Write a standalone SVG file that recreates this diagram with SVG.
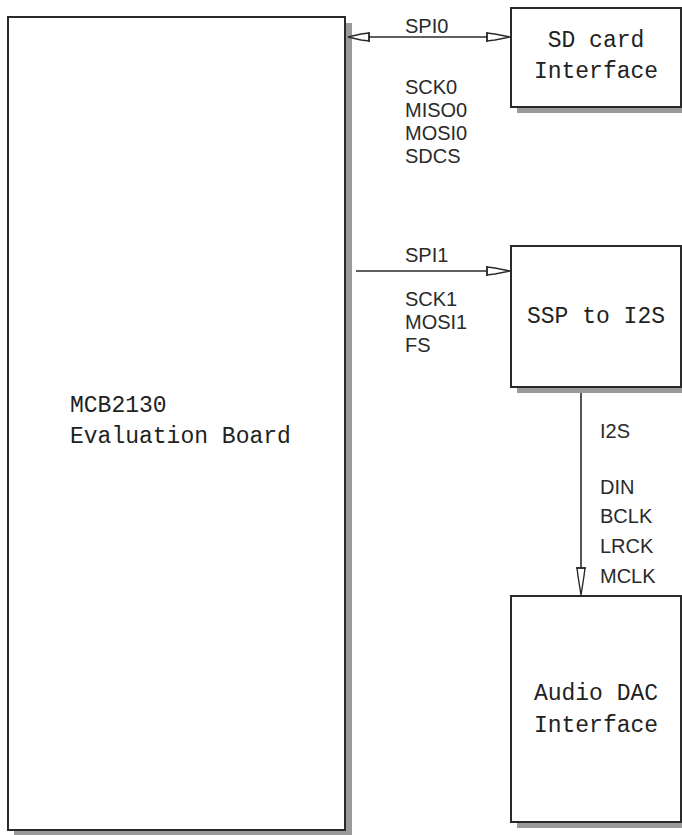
<svg xmlns="http://www.w3.org/2000/svg" width="682" height="835" viewBox="0 0 682 835">
<style>
.shadow{fill:#9a9a9a;stroke:none}
.box{fill:#ffffff;stroke:#2a2a2a;stroke-width:2}
.node{font-family:"Liberation Mono","Courier New",monospace;font-size:23px;fill:#222}
.lbl{font-family:"Liberation Sans",Arial,sans-serif;font-size:20px;fill:#2a2a2a}
.wire{stroke:#2a2a2a;stroke-width:1.6;fill:none}
.head{fill:#ffffff;stroke:#2a2a2a;stroke-width:1.4;stroke-linejoin:miter}
</style>
<rect width="682" height="835" fill="#ffffff"/>
<g id="board">
<rect class="shadow" x="14" y="23" width="338" height="812"/>
<rect class="box" x="8" y="17" width="337" height="813"/>
<text class="node" x="70" y="412">MCB2130</text>
<text class="node" x="70" y="443">Evaluation Board</text>
</g>
<g id="sdcard">
<rect class="shadow" x="517" y="14" width="170" height="99"/>
<rect class="box" x="511" y="8" width="170" height="99"/>
<text class="node" x="596" y="47" text-anchor="middle">SD card</text>
<text class="node" x="596" y="78" text-anchor="middle">Interface</text>
</g>
<g id="ssp">
<rect class="shadow" x="517" y="252" width="170" height="141"/>
<rect class="box" x="511" y="246" width="170" height="141"/>
<text class="node" x="596" y="323" text-anchor="middle">SSP to I2S</text>
</g>
<g id="dac">
<rect class="shadow" x="517" y="602" width="170" height="226"/>
<rect class="box" x="511" y="596" width="170" height="226"/>
<text class="node" x="596" y="700" text-anchor="middle">Audio DAC</text>
<text class="node" x="596" y="732" text-anchor="middle">Interface</text>
</g>
<g id="connectors">
<g id="spi0">
<line class="wire" x1="362" y1="37" x2="495" y2="37"/>
<polygon class="head" points="487,33 495,34 510,37 495,40 487,41"/>
<line class="wire" x1="487" y1="32" x2="487" y2="42"/>
<polygon class="head" points="369,33 361,34 348,37 361,40 369,41"/>
<line class="wire" x1="369" y1="32" x2="369" y2="42"/>
<text class="lbl" x="405" y="33">SPI0</text>
<text class="lbl" x="405" y="94">SCK0</text>
<text class="lbl" x="405" y="117">MISO0</text>
<text class="lbl" x="405" y="140">MOSI0</text>
<text class="lbl" x="405" y="163">SDCS</text>
</g>
<g id="spi1">
<line class="wire" x1="356" y1="271" x2="495" y2="271"/>
<polygon class="head" points="487,267 495,268 510,271 495,274 487,275"/>
<line class="wire" x1="487" y1="266" x2="487" y2="276"/>
<text class="lbl" x="405" y="262">SPI1</text>
<text class="lbl" x="405" y="306">SCK1</text>
<text class="lbl" x="405" y="329">MOSI1</text>
<text class="lbl" x="405" y="352">FS</text>
</g>
<g id="i2s">
<line class="wire" x1="581" y1="393" x2="581" y2="578"/>
<polygon class="head" points="577,568 578,576 581,595 584,576 585,568"/>
<line class="wire" x1="576" y1="568" x2="586" y2="568"/>
<text class="lbl" x="600" y="438">I2S</text>
<text class="lbl" x="600" y="494">DIN</text>
<text class="lbl" x="600" y="523">BCLK</text>
<text class="lbl" x="600" y="553">LRCK</text>
<text class="lbl" x="600" y="583">MCLK</text>
</g>
</g>
</svg>
